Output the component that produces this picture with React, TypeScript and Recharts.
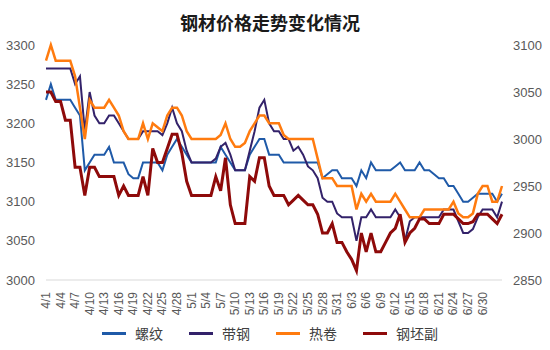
import React from 'react'
import { LineChart, Line, XAxis, YAxis } from 'recharts'

// daily points from 4/1 (day 0); labels every 3 days
const tickLabels = [
  '4/1', '4/4', '4/7', '4/10', '4/13', '4/16', '4/19', '4/22', '4/25', '4/28',
  '5/1', '5/4', '5/7', '5/10', '5/13', '5/16', '5/19', '5/22', '5/25', '5/28',
  '5/31', '6/3', '6/6', '6/9', '6/12', '6/15', '6/18', '6/21', '6/24', '6/27', '6/30',
]

const rebar = [
  3230, 3250, 3230, 3230, 3230, 3230, 3220, 3210, 3140, 3150,
  3160, 3160, 3160, 3170, 3150, 3150, 3150, 3135, 3130, 3130,
  3150, 3150, 3150, 3150, 3140, 3160, 3170, 3180, 3170, 3160,
  3150, 3150, 3150, 3150, 3150, 3150, 3170, 3160, 3150, 3140,
  3140, 3140, 3160, 3170, 3180, 3180, 3160, 3160, 3160, 3150,
  3150, 3150, 3150, 3150, 3150, 3150, 3150, 3130, 3135, 3140,
  3140, 3130, 3130, 3130, 3120, 3140, 3130, 3150, 3140, 3140,
  3140, 3140, 3145, 3150, 3140, 3140, 3140, 3150, 3140, 3140,
  3135, 3130, 3130, 3120, 3120, 3110, 3100, 3100, 3105, 3110,
  3110, 3110, 3110, 3100, 3110,
]

const strip = [
  3270, 3270, 3270, 3270, 3270, 3270, 3250, 3260, 3190, 3240,
  3210, 3200, 3200, 3210, 3210, 3200, 3190, 3180, 3180, 3180,
  3190, 3190, 3190, 3190, 3185, 3200, 3220, 3200, 3190, 3165,
  3150, 3150, 3150, 3150, 3150, 3155, 3170, 3175, 3160, 3140,
  3140, 3140, 3165, 3190, 3220, 3230, 3200, 3190, 3190, 3180,
  3180, 3165, 3170, 3160, 3145, 3140, 3130, 3105, 3100, 3100,
  3085, 3080, 3080, 3080, 3050, 3080, 3080, 3090, 3080, 3080,
  3080, 3080, 3090, 3080, 3050, 3075, 3080, 3080, 3080, 3080,
  3080, 3080, 3090, 3090, 3090, 3075, 3060, 3060, 3065, 3080,
  3090, 3090, 3090, 3080, 3100,
]

const hotCoil = [
  3280, 3300, 3280, 3280, 3280, 3280, 3260, 3220, 3180, 3230,
  3220, 3220, 3220, 3230, 3220, 3210, 3190, 3180, 3180, 3180,
  3200, 3180, 3200, 3195, 3190, 3210, 3220, 3220, 3210, 3190,
  3180, 3180, 3180, 3180, 3180, 3180, 3185, 3200, 3180, 3170,
  3170, 3175, 3190, 3200, 3210, 3210, 3200, 3200, 3200, 3185,
  3180, 3180, 3180, 3180, 3180, 3180, 3155, 3130, 3130, 3130,
  3120, 3120, 3120, 3120, 3090, 3110, 3100, 3110, 3100, 3100,
  3100, 3100, 3110, 3100, 3090, 3080, 3080, 3080, 3090, 3090,
  3090, 3090, 3090, 3090, 3100, 3085, 3080, 3080, 3085, 3110,
  3120, 3120, 3100, 3100, 3120,
]

// right axis
const billet = [
  3050, 3050, 3040, 3040, 3020, 3020, 2970, 2970, 2940, 2970,
  2970, 2960, 2960, 2960, 2960, 2940, 2950, 2940, 2940, 2940,
  2960, 2940, 2990, 2975, 2975, 2990, 3005, 3005, 2985, 2955,
  2940, 2940, 2940, 2940, 2940, 2960, 2945, 2980, 2930, 2910,
  2910, 2910, 2960, 2955, 2980, 2980, 2950, 2940, 2940, 2940,
  2930, 2935, 2940, 2935, 2930, 2930, 2920, 2900, 2900, 2910,
  2890, 2890, 2880, 2872, 2860, 2900, 2880, 2900, 2880, 2880,
  2890, 2900, 2905, 2920, 2890, 2900, 2905, 2915, 2915, 2910,
  2910, 2910, 2920, 2920, 2920, 2915, 2910, 2910, 2912, 2920,
  2920, 2920, 2915, 2910, 2920,
]

const leftTicks = [3000, 3050, 3100, 3150, 3200, 3250, 3300]
const rightTicks = [2850, 2900, 2950, 3000, 3050, 3100]

const series = [
  { key: 'rebar', name: '螺纹', color: '#1f5aa8', width: 2, axis: 'left' },
  { key: 'strip', name: '带钢', color: '#33226a', width: 2, axis: 'left' },
  { key: 'hotCoil', name: '热卷', color: '#ff7b0f', width: 2.5, axis: 'left' },
  { key: 'billet', name: '钢坯副', color: '#8e0a0a', width: 3, axis: 'right' },
]

const rows = rebar.map((v, i) => ({
  day: i,
  rebar: v,
  strip: strip[i],
  hotCoil: hotCoil[i],
  billet: billet[i],
}))

const numFont = "'Liberation Sans', Arial, sans-serif"
const cjkFont = "'Noto Sans CJK SC', 'Noto Sans', sans-serif"

const DateTick = (props: any) => {
  const { x, y, payload } = props
  return (
    <g transform={`translate(${x},${y + 10})`}>
      <text transform="rotate(-90)" textAnchor="end" dy={4} fontSize={12} fill="#595959" fontFamily={numFont}>
        {tickLabels[Math.round(payload.value / 3)]}
      </text>
    </g>
  )
}

export default function App() {
  return (
    <div style={{ position: 'absolute', left: 0, top: 0, width: 550, height: 350, background: '#fff' }}>
      <div
        style={{
          position: 'absolute', left: 0, top: 10, width: 540, textAlign: 'center',
          fontFamily: cjkFont, fontWeight: 700, fontSize: 18, color: '#1a1a1a', lineHeight: '24px',
        }}
      >
        钢材价格走势变化情况
      </div>
      <LineChart width={550} height={350} data={rows} margin={{ top: 45, right: 0, bottom: 25, left: 0 }}>
        <XAxis
          dataKey="day"
          type="number"
          domain={[0, 94]}
          ticks={tickLabels.map((_, i) => i * 3)}
          interval={0}
          height={45}
          tickSize={0}
          tickLine={false}
          axisLine={{ stroke: '#d9d9d9' }}
          tick={<DateTick />}
        />
        <YAxis
          yAxisId="left"
          domain={[3000, 3300]}
          ticks={leftTicks}
          width={46}
          axisLine={false}
          tickLine={false}
          tickSize={0}
          tickMargin={11}
          tick={{ fontSize: 13, fill: '#595959', fontFamily: numFont }}
        />
        <YAxis
          yAxisId="right"
          orientation="right"
          domain={[2850, 3100]}
          ticks={rightTicks}
          width={48}
          axisLine={false}
          tickLine={false}
          tickSize={0}
          tickMargin={11}
          tick={{ fontSize: 13, fill: '#595959', fontFamily: numFont }}
        />
        {series.map((s) => (
          <Line
            key={s.key}
            yAxisId={s.axis}
            dataKey={s.key}
            name={s.name}
            type="linear"
            stroke={s.color}
            strokeWidth={s.width}
            dot={false}
            isAnimationActive={false}
          />
        ))}
      </LineChart>
      <div
        style={{
          position: 'absolute', left: 0, top: 323, width: 550, display: 'flex', justifyContent: 'center',
          gap: 26, fontFamily: cjkFont, fontSize: 14, color: '#404040', marginLeft: -5,
        }}
      >
        {series.map((s) => (
          <div key={s.key} style={{ display: 'flex', alignItems: 'center' }}>
            <span style={{ display: 'inline-block', width: 24, height: 3, background: s.color, marginRight: 9 }} />
            <span>{s.name}</span>
          </div>
        ))}
      </div>
    </div>
  )
}
